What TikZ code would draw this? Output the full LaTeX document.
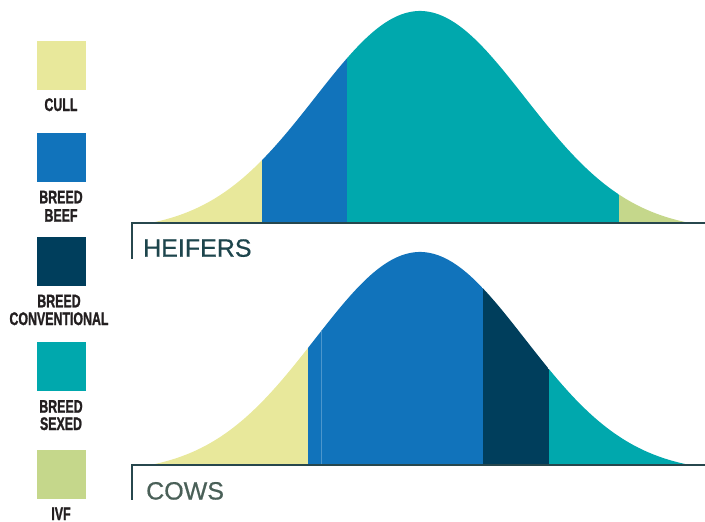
\documentclass[tikz,border=0pt]{standalone}
\usepackage{fontspec}
\setmainfont{Liberation Sans}
\newfontfamily\legendfont[FakeStretch=0.68,FakeBold=1.2]{Liberation Sans Bold}
\newfontfamily\herdfont[FakeBold=0.6]{Liberation Sans}

\definecolor{cull}{HTML}{E8E89B}
\definecolor{beef}{HTML}{1173BB}
\definecolor{conventional}{HTML}{003E5C}
\definecolor{sexed}{HTML}{00A8AD}
\definecolor{ivf}{HTML}{C5D78B}
\definecolor{axiscol}{HTML}{27474D}
\definecolor{heiferscol}{HTML}{1D454C}
\definecolor{cowscol}{HTML}{4A6058}
\definecolor{labelcol}{HTML}{231F20}

\tikzset{
  legendbox/.style={minimum size=49pt, inner sep=0pt},
  legendlabel/.style={anchor=base, inner sep=0pt, text=labelcol,
    font=\legendfont\fontsize{18.2}{18}\selectfont},
  herdlabel/.style={anchor=base west, inner sep=0pt,
    font=\herdfont\fontsize{25}{25}\selectfont},
  axisline/.style={axiscol, line width=2pt}
}

\begin{document}
\begin{tikzpicture}[x=1pt, y=-1pt]
\useasboundingbox (0,0) rectangle (705,522);

% Legend
\node[legendbox, fill=cull] (cullbox) at (61,65.5) {};
\node[legendlabel] (cullname) at (61,111) {CULL};
\node[legendbox, fill=beef] (beefbox) at (61,157.5) {};
\node[legendlabel] (beefname) at (61,203.3) {BREED};
\node[legendlabel] (beefname2) at (61,221.7) {BEEF};
\node[legendbox, fill=conventional] (convbox) at (61,261.5) {};
\node[legendlabel] (convname) at (59,307.3) {BREED};
\node[legendlabel] (convname2) at (59,325) {CONVENTIONAL};
\node[legendbox, fill=sexed] (sexedbox) at (61,366.5) {};
\node[legendlabel] (sexedname) at (61,412.7) {BREED};
\node[legendlabel] (sexedname2) at (61,430) {SEXED};
\node[legendbox, fill=ivf] (ivfbox) at (61,474.5) {};
\node[legendlabel, text depth=0pt] (ivfname) at (61,520) {IVF};

% Heifers curve
\begin{scope}
\clip (150,223) -- plot[domain=150:690, samples=180, smooth]
  (\x, {223-212*max(0,(exp(-0.5*((\x-420)/105)^2)-0.0367)/0.9633)}) -- (690,223) -- cycle;
\fill[cull] (150,0) rectangle (262,223);
\fill[beef] (262,0) rectangle (347,223);
\fill[sexed] (347,0) rectangle (619,223);
\fill[ivf] (619,0) rectangle (690,223);
\end{scope}

% Cows curve
\begin{scope}
\clip (150,465) -- plot[domain=150:690, samples=180, smooth]
  (\x, {465-213*max(0,(exp(-0.5*((\x-420)/105)^2)-0.0367)/0.9633)}) -- (690,465) -- cycle;
\fill[cull] (150,240) rectangle (308,465);
\fill[beef] (308,240) rectangle (483,465);
\fill[conventional] (483,240) rectangle (549,465);
\fill[sexed] (549,240) rectangle (690,465);
\draw[beef!75!white, line width=0.6pt] (321.5,240) -- (321.5,465);
\end{scope}

% Axes
\coordinate (topcorner) at (132,223);
\coordinate (botcorner) at (132,465);
\draw[axisline] (705,223) -- (topcorner) -- ++(0,36);
\draw[axisline] (705,465) -- (botcorner) -- ++(0,35);

% Herd names
\node[herdlabel, text=heiferscol] (heifers) at (143,256.7) {HEIFERS};
\node[herdlabel, text=cowscol] (cows) at (146,499.5) {COWS};

\end{tikzpicture}
\end{document}
